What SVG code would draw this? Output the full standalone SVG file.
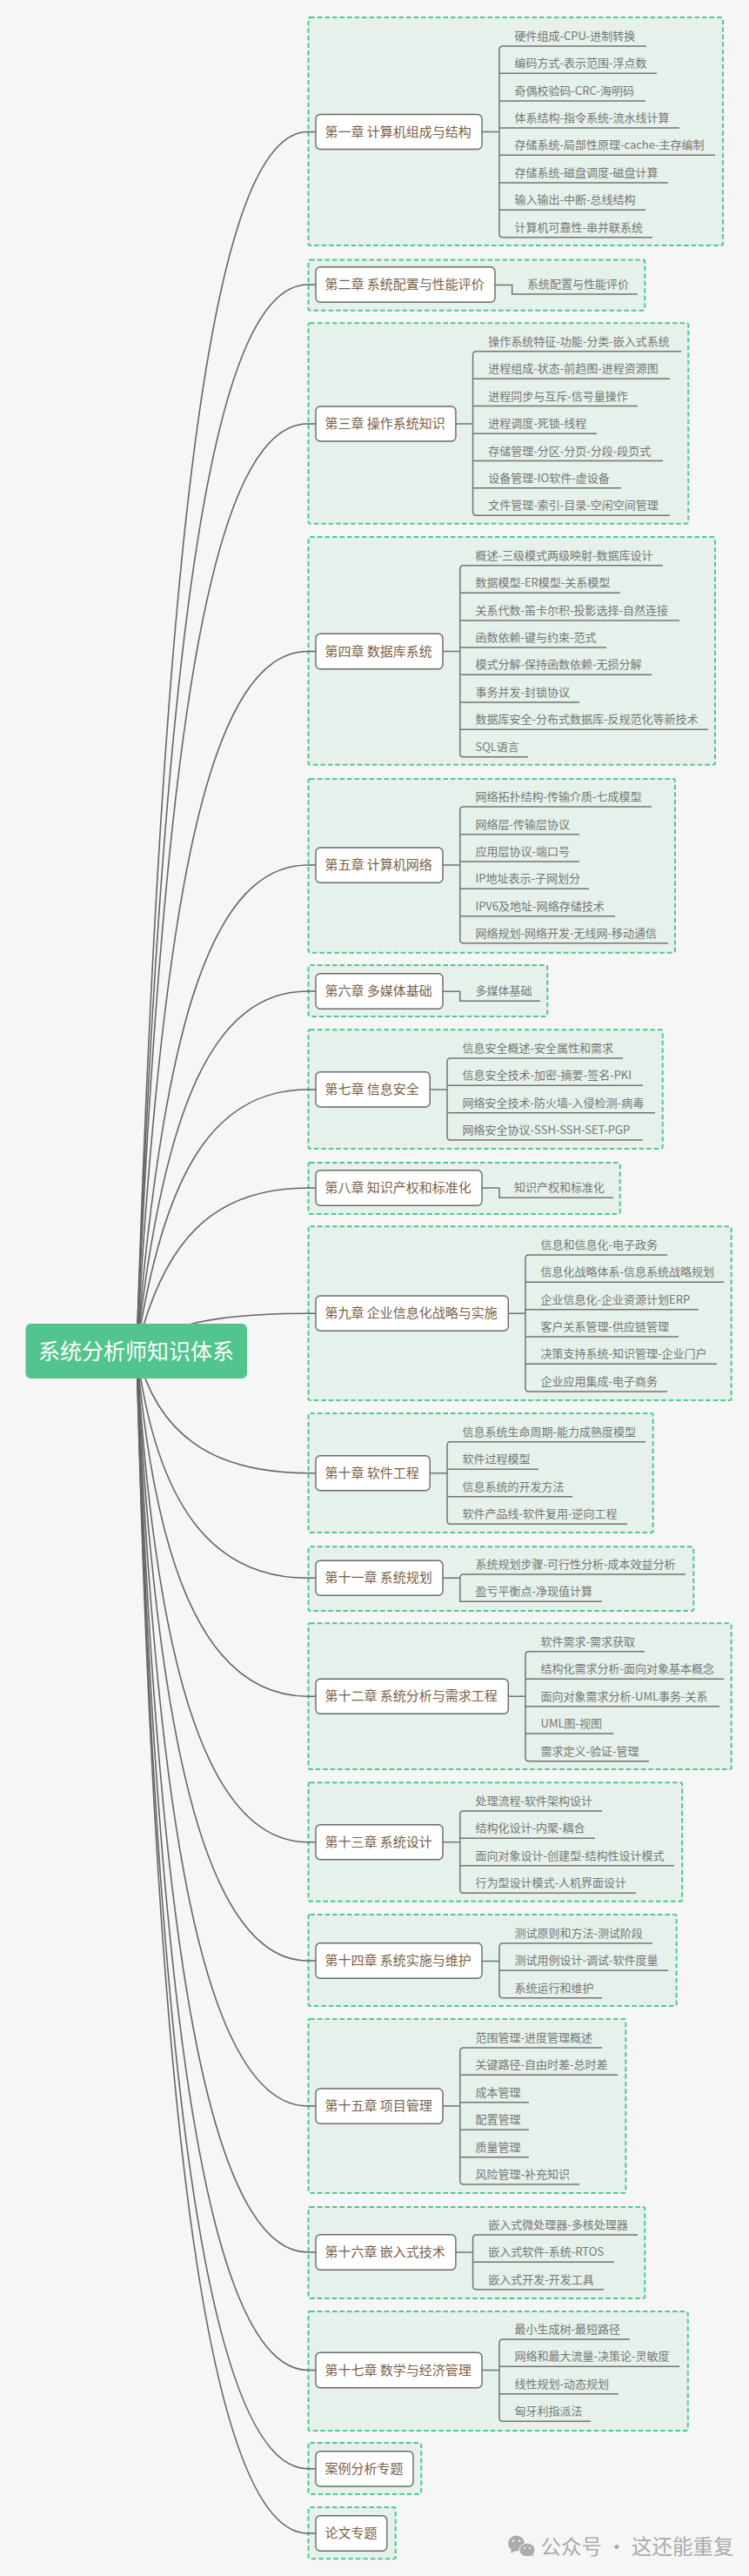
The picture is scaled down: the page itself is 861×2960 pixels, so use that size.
<svg xmlns="http://www.w3.org/2000/svg" width="861" height="2960" viewBox="0 0 861 2960">
<style>
text{font-family:"Noto Sans CJK SC","Microsoft YaHei","Liberation Sans",sans-serif}
.b{fill:#e5f1ea;stroke:#4fc98f;stroke-width:2;stroke-dasharray:5.5 3}
.c{fill:none;stroke:#666;stroke-width:1.6}
.u{fill:none;stroke:#747470;stroke-width:1.5}
.n{fill:#fff;stroke:#6a6a66;stroke-width:1.4}
.t{font-size:15px;fill:#7a5f48}
.l{font-size:13px;fill:#777}
.r{font-size:25px;fill:#fff}
.w{font-size:23.5px;fill:#ababab}
</style>
<rect width="861" height="2960" fill="#f6f6f6"/>
<g id="boundaries">
<rect class="b" x="354.5" y="20" width="476.5" height="262" rx="2"/>
<rect class="b" x="354.5" y="298.5" width="386.8" height="58.2" rx="2"/>
<rect class="b" x="354.5" y="371.3" width="436.8" height="230.5" rx="2"/>
<rect class="b" x="354.5" y="617" width="467.5" height="261.7" rx="2"/>
<rect class="b" x="354.5" y="895" width="421.5" height="199.7" rx="2"/>
<rect class="b" x="354.5" y="1109" width="274.8" height="59" rx="2"/>
<rect class="b" x="354.5" y="1183.3" width="407.2" height="136.7" rx="2"/>
<rect class="b" x="354.5" y="1336" width="358.3" height="59" rx="2"/>
<rect class="b" x="354.5" y="1409.3" width="486.2" height="199.7" rx="2"/>
<rect class="b" x="354.5" y="1624" width="396.2" height="137" rx="2"/>
<rect class="b" x="354.5" y="1777.3" width="442.8" height="73.7" rx="2"/>
<rect class="b" x="354.5" y="1865.3" width="486.2" height="167.7" rx="2"/>
<rect class="b" x="354.5" y="2048.3" width="429.7" height="136.4" rx="2"/>
<rect class="b" x="354.5" y="2200" width="423.1" height="105" rx="2"/>
<rect class="b" x="354.5" y="2320" width="364.9" height="200" rx="2"/>
<rect class="b" x="354.5" y="2536" width="386.8" height="105" rx="2"/>
<rect class="b" x="354.5" y="2656" width="436.3" height="137" rx="2"/>
<rect class="b" x="354.5" y="2807" width="129.8" height="59" rx="2"/>
<rect class="b" x="354.5" y="2881" width="100.2" height="59.3" rx="2"/>
</g>
<g id="connectors">
<path class="c" d="M157 1552C188 600 245 151.5 354 151.5L363 151.5"/>
<path class="c" d="M157 1552C188 719 245 327 354 327L363 327"/>
<path class="c" d="M157 1552C188 828 245 487 354 487L363 487"/>
<path class="c" d="M157 1552C188 1006 245 748.5 354 748.5L363 748.5"/>
<path class="c" d="M157 1552C188 1173 245 994 354 994L363 994"/>
<path class="c" d="M157 1552C188 1271 245 1139 354 1139L363 1139"/>
<path class="c" d="M157 1552C188 1348 245 1252 354 1252L363 1252"/>
<path class="c" d="M157 1552C188 1425 245 1365 354 1365L363 1365"/>
<path class="c" d="M157 1552C188 1523 245 1509.3 354 1509.3L363 1509.3"/>
<path class="c" d="M157 1552C180 1648 244 1692.7 354 1692.7L363 1692.7"/>
<path class="c" d="M157 1552C180 1730 244 1813.3 354 1813.3L363 1813.3"/>
<path class="c" d="M157 1552C180 1822 244 1949.3 354 1949.3L363 1949.3"/>
<path class="c" d="M157 1552C180 1936 244 2116.7 354 2116.7L363 2116.7"/>
<path class="c" d="M157 1552C180 2029 244 2253 354 2253L363 2253"/>
<path class="c" d="M157 1552C180 2142 244 2420 354 2420L363 2420"/>
<path class="c" d="M157 1552C180 2256 244 2588 354 2588L363 2588"/>
<path class="c" d="M157 1552C180 2349 244 2723.5 354 2723.5L363 2723.5"/>
<path class="c" d="M157 1552C180 2426 244 2836.8 354 2836.8L363 2836.8"/>
<path class="c" d="M157 1552C180 2476 244 2911 354 2911L363 2911"/>
<path class="u" d="M554 151.5H574M743 53H578Q574 53 574 57V268.8Q574 272.8 578 272.8H750M574 84.2H755M574 115.9H742M574 147.1H781M574 178.3H822M574 210H768M574 241.2H742"/>
<path class="u" d="M569 327.4H588.7V338H733"/>
<path class="u" d="M523.9 487H543.6M783 403.7H547.6Q543.6 403.7 543.6 407.7V588.3Q543.6 592.3 547.6 592.3H770M543.6 435.3H770M543.6 466.6H733M543.6 498.2H686M543.6 529.5H762M543.6 560.7H714"/>
<path class="u" d="M509 748.5H528.8M762 649.7H532.8Q528.8 649.7 528.8 653.7V865.7Q528.8 869.7 532.8 869.7H607M528.8 681.3H713M528.8 713H781M528.8 744H697M528.8 775.3H749M528.8 807H666M528.8 838.3H814"/>
<path class="u" d="M509 994H528.8M749 927H532.8Q528.8 927 528.8 931V1079.7Q528.8 1083.7 532.8 1083.7H768M528.8 958.7H666M528.8 990H666M528.8 1021.3H677M528.8 1052.7H707"/>
<path class="u" d="M509 1139.3H528.8V1150.3H621"/>
<path class="u" d="M494.2 1252H514M716 1216H518Q514 1216 514 1220V1306Q514 1310 518 1310H739M514 1247.3H739M514 1278.7H753"/>
<path class="u" d="M554 1365H574V1376.3H705"/>
<path class="u" d="M584.3 1509.3H604M767 1442H608Q604 1442 604 1446V1595Q604 1599 608 1599H767M604 1473.3H832M604 1504.7H803M604 1536H780M604 1567.3H824"/>
<path class="u" d="M494.2 1692.7H514M742 1656.7H518Q514 1656.7 514 1660.7V1747.3Q514 1751.3 518 1751.3H721M514 1688.3H619M514 1719.7H658"/>
<path class="u" d="M509 1813.3H528.8M788 1809H532.8Q528.8 1809 528.8 1813V1840.3H692"/>
<path class="u" d="M584.3 1949.3H604M741 1897.7H608Q604 1897.7 604 1901.7V2019.7Q604 2023.7 608 2023.7H746M604 1929.3H832M604 1960.7H827M604 1992H705"/>
<path class="u" d="M509 2116.7H528.8M692 2081H532.8Q528.8 2081 528.8 2085V2171.3Q528.8 2175.3 532.8 2175.3H731M528.8 2112.3H684M528.8 2143.7H775"/>
<path class="u" d="M554 2253.5H574M750 2233H578Q574 2233 574 2237V2291.7Q574 2295.7 578 2295.7H692M574 2264.3H768"/>
<path class="u" d="M509 2420H528.8M692 2353H532.8Q528.8 2353 528.8 2357V2506Q528.8 2510 532.8 2510H666M528.8 2384.3H710M528.8 2415.7H608M528.8 2447.3H608M528.8 2478.7H608"/>
<path class="u" d="M523.9 2588H543.6M733 2568H547.6Q543.6 2568 543.6 2572V2626.7Q543.6 2630.7 547.6 2630.7H694M543.6 2599.3H706"/>
<path class="u" d="M554 2723.5H574M724 2688H578Q574 2688 574 2692V2778.3Q574 2782.3 578 2782.3H679M574 2719.3H781M574 2750.7H711"/>
</g>
<g id="root"><rect x="29.5" y="1521" width="254.5" height="63" rx="6" fill="#52c48e"/><text class="r" x="44" y="1561.5">系统分析师知识体系</text></g>
<g id="ch1"><rect class="n" x="363" y="131.5" width="191" height="40" rx="5"/><text class="t" x="373.5" y="156.5">第一章 计算机组成与结构</text></g>
<g id="ch1-1"><text class="l" x="591.4" y="46">硬件组成-CPU-进制转换</text></g>
<g id="ch1-2"><text class="l" x="591.4" y="77.2">编码方式-表示范围-浮点数</text></g>
<g id="ch1-3"><text class="l" x="591.4" y="108.9">奇偶校验码-CRC-海明码</text></g>
<g id="ch1-4"><text class="l" x="591.4" y="140.1">体系结构-指令系统-流水线计算</text></g>
<g id="ch1-5"><text class="l" x="591.4" y="171.3">存储系统-局部性原理-cache-主存编制</text></g>
<g id="ch1-6"><text class="l" x="591.4" y="203">存储系统-磁盘调度-磁盘计算</text></g>
<g id="ch1-7"><text class="l" x="591.4" y="234.2">输入输出-中断-总线结构</text></g>
<g id="ch1-8"><text class="l" x="591.4" y="265.8">计算机可靠性-串并联系统</text></g>
<g id="ch2"><rect class="n" x="363" y="306.8" width="206" height="40.4" rx="5"/><text class="t" x="373.5" y="332">第二章 系统配置与性能评价</text></g>
<g id="ch2-1"><text class="l" x="606" y="331">系统配置与性能评价</text></g>
<g id="ch3"><rect class="n" x="363" y="467" width="160.9" height="40" rx="5"/><text class="t" x="373.5" y="492">第三章 操作系统知识</text></g>
<g id="ch3-1"><text class="l" x="561.2" y="396.7">操作系统特征-功能-分类-嵌入式系统</text></g>
<g id="ch3-2"><text class="l" x="561.2" y="428.3">进程组成-状态-前趋图-进程资源图</text></g>
<g id="ch3-3"><text class="l" x="561.2" y="459.6">进程同步与互斥-信号量操作</text></g>
<g id="ch3-4"><text class="l" x="561.2" y="491.2">进程调度-死锁-线程</text></g>
<g id="ch3-5"><text class="l" x="561.2" y="522.5">存储管理-分区-分页-分段-段页式</text></g>
<g id="ch3-6"><text class="l" x="561.2" y="553.7">设备管理-IO软件-虚设备</text></g>
<g id="ch3-7"><text class="l" x="561.2" y="585.3">文件管理-索引-目录-空闲空间管理</text></g>
<g id="ch4"><rect class="n" x="363" y="728.3" width="146" height="40.4" rx="5"/><text class="t" x="373.5" y="753.5">第四章 数据库系统</text></g>
<g id="ch4-1"><text class="l" x="546.4" y="642.7">概述-三级模式两级映射-数据库设计</text></g>
<g id="ch4-2"><text class="l" x="546.4" y="674.3">数据模型-ER模型-关系模型</text></g>
<g id="ch4-3"><text class="l" x="546.4" y="706">关系代数-笛卡尔积-投影选择-自然连接</text></g>
<g id="ch4-4"><text class="l" x="546.4" y="737">函数依赖-键与约束-范式</text></g>
<g id="ch4-5"><text class="l" x="546.4" y="768.3">模式分解-保持函数依赖-无损分解</text></g>
<g id="ch4-6"><text class="l" x="546.4" y="800">事务并发-封锁协议</text></g>
<g id="ch4-7"><text class="l" x="546.4" y="831.3">数据库安全-分布式数据库-反规范化等新技术</text></g>
<g id="ch4-8"><text class="l" x="546.4" y="862.7">SQL语言</text></g>
<g id="ch5"><rect class="n" x="363" y="974" width="146" height="40.3" rx="5"/><text class="t" x="373.5" y="999">第五章 计算机网络</text></g>
<g id="ch5-1"><text class="l" x="546.4" y="920">网络拓扑结构-传输介质-七成模型</text></g>
<g id="ch5-2"><text class="l" x="546.4" y="951.7">网络层-传输层协议</text></g>
<g id="ch5-3"><text class="l" x="546.4" y="983">应用层协议-端口号</text></g>
<g id="ch5-4"><text class="l" x="546.4" y="1014.3">IP地址表示-子网划分</text></g>
<g id="ch5-5"><text class="l" x="546.4" y="1045.7">IPV6及地址-网络存储技术</text></g>
<g id="ch5-6"><text class="l" x="546.4" y="1076.7">网络规划-网络开发-无线网-移动通信</text></g>
<g id="ch6"><rect class="n" x="363" y="1118.7" width="146" height="40.6" rx="5"/><text class="t" x="373.5" y="1144">第六章 多媒体基础</text></g>
<g id="ch6-1"><text class="l" x="546.4" y="1143.3">多媒体基础</text></g>
<g id="ch7"><rect class="n" x="363" y="1231.7" width="131.2" height="40.3" rx="5"/><text class="t" x="373.5" y="1257">第七章 信息安全</text></g>
<g id="ch7-1"><text class="l" x="531.6" y="1209">信息安全概述-安全属性和需求</text></g>
<g id="ch7-2"><text class="l" x="531.6" y="1240.3">信息安全技术-加密-摘要-签名-PKI</text></g>
<g id="ch7-3"><text class="l" x="531.6" y="1271.7">网络安全技术-防火墙-入侵检测-病毒</text></g>
<g id="ch7-4"><text class="l" x="531.6" y="1303">网络安全协议-SSH-SSH-SET-PGP</text></g>
<g id="ch8"><rect class="n" x="363" y="1344.7" width="191" height="40.6" rx="5"/><text class="t" x="373.5" y="1370">第八章 知识产权和标准化</text></g>
<g id="ch8-1"><text class="l" x="591" y="1369.3">知识产权和标准化</text></g>
<g id="ch9"><rect class="n" x="363" y="1489" width="221.3" height="40.3" rx="5"/><text class="t" x="373.5" y="1514.3">第九章 企业信息化战略与实施</text></g>
<g id="ch9-1"><text class="l" x="621.6" y="1435">信息和信息化-电子政务</text></g>
<g id="ch9-2"><text class="l" x="621.6" y="1466.3">信息化战略体系-信息系统战略规划</text></g>
<g id="ch9-3"><text class="l" x="621.6" y="1497.7">企业信息化-企业资源计划ERP</text></g>
<g id="ch9-4"><text class="l" x="621.6" y="1529">客户关系管理-供应链管理</text></g>
<g id="ch9-5"><text class="l" x="621.6" y="1560.3">决策支持系统-知识管理-企业门户</text></g>
<g id="ch9-6"><text class="l" x="621.6" y="1592">企业应用集成-电子商务</text></g>
<g id="ch10"><rect class="n" x="363" y="1672.7" width="131.2" height="40" rx="5"/><text class="t" x="373.5" y="1697.7">第十章 软件工程</text></g>
<g id="ch10-1"><text class="l" x="531.6" y="1649.7">信息系统生命周期-能力成熟度模型</text></g>
<g id="ch10-2"><text class="l" x="531.6" y="1681.3">软件过程模型</text></g>
<g id="ch10-3"><text class="l" x="531.6" y="1712.7">信息系统的开发方法</text></g>
<g id="ch10-4"><text class="l" x="531.6" y="1744.3">软件产品线-软件复用-逆向工程</text></g>
<g id="ch11"><rect class="n" x="363" y="1793.3" width="146" height="40" rx="5"/><text class="t" x="373.5" y="1818.3">第十一章 系统规划</text></g>
<g id="ch11-1"><text class="l" x="546.4" y="1802">系统规划步骤-可行性分析-成本效益分析</text></g>
<g id="ch11-2"><text class="l" x="546.4" y="1833.3">盈亏平衡点-净现值计算</text></g>
<g id="ch12"><rect class="n" x="363" y="1929.3" width="221.3" height="40" rx="5"/><text class="t" x="373.5" y="1954.3">第十二章 系统分析与需求工程</text></g>
<g id="ch12-1"><text class="l" x="621.6" y="1890.7">软件需求-需求获取</text></g>
<g id="ch12-2"><text class="l" x="621.6" y="1922.3">结构化需求分析-面向对象基本概念</text></g>
<g id="ch12-3"><text class="l" x="621.6" y="1953.7">面向对象需求分析-UML事务-关系</text></g>
<g id="ch12-4"><text class="l" x="621.6" y="1985">UML图-视图</text></g>
<g id="ch12-5"><text class="l" x="621.6" y="2016.7">需求定义-验证-管理</text></g>
<g id="ch13"><rect class="n" x="363" y="2096.7" width="146" height="40" rx="5"/><text class="t" x="373.5" y="2121.7">第十三章 系统设计</text></g>
<g id="ch13-1"><text class="l" x="546.4" y="2074">处理流程-软件架构设计</text></g>
<g id="ch13-2"><text class="l" x="546.4" y="2105.3">结构化设计-内聚-耦合</text></g>
<g id="ch13-3"><text class="l" x="546.4" y="2136.7">面向对象设计-创建型-结构性设计模式</text></g>
<g id="ch13-4"><text class="l" x="546.4" y="2168.3">行为型设计模式-人机界面设计</text></g>
<g id="ch14"><rect class="n" x="363" y="2232.7" width="191" height="40.6" rx="5"/><text class="t" x="373.5" y="2258">第十四章 系统实施与维护</text></g>
<g id="ch14-1"><text class="l" x="591.4" y="2226">测试原则和方法-测试阶段</text></g>
<g id="ch14-2"><text class="l" x="591.4" y="2257.3">测试用例设计-调试-软件度量</text></g>
<g id="ch14-3"><text class="l" x="591.4" y="2288.7">系统运行和维护</text></g>
<g id="ch15"><rect class="n" x="363" y="2400" width="146" height="40.3" rx="5"/><text class="t" x="373.5" y="2425">第十五章 项目管理</text></g>
<g id="ch15-1"><text class="l" x="546.4" y="2346">范围管理-进度管理概述</text></g>
<g id="ch15-2"><text class="l" x="546.4" y="2377.3">关键路径-自由时差-总时差</text></g>
<g id="ch15-3"><text class="l" x="546.4" y="2408.7">成本管理</text></g>
<g id="ch15-4"><text class="l" x="546.4" y="2440.3">配置管理</text></g>
<g id="ch15-5"><text class="l" x="546.4" y="2471.7">质量管理</text></g>
<g id="ch15-6"><text class="l" x="546.4" y="2503">风险管理-补充知识</text></g>
<g id="ch16"><rect class="n" x="363" y="2567.7" width="160.9" height="40.6" rx="5"/><text class="t" x="373.5" y="2593">第十六章 嵌入式技术</text></g>
<g id="ch16-1"><text class="l" x="561.2" y="2561">嵌入式微处理器-多核处理器</text></g>
<g id="ch16-2"><text class="l" x="561.2" y="2592.3">嵌入式软件-系统-RTOS</text></g>
<g id="ch16-3"><text class="l" x="561.2" y="2623.7">嵌入式开发-开发工具</text></g>
<g id="ch17"><rect class="n" x="363" y="2703.3" width="191" height="40.4" rx="5"/><text class="t" x="373.5" y="2728.5">第十七章 数学与经济管理</text></g>
<g id="ch17-1"><text class="l" x="591.4" y="2681">最小生成树-最短路径</text></g>
<g id="ch17-2"><text class="l" x="591.4" y="2712.3">网络和最大流量-决策论-灵敏度</text></g>
<g id="ch17-3"><text class="l" x="591.4" y="2743.7">线性规划-动态规划</text></g>
<g id="ch17-4"><text class="l" x="591.4" y="2775.3">匈牙利指派法</text></g>
<g id="case"><rect class="n" x="363" y="2816.7" width="112" height="40.3" rx="5"/><text class="t" x="373.5" y="2842">案例分析专题</text></g>
<g id="paper"><rect class="n" x="363" y="2890.7" width="81.8" height="40.6" rx="5"/><text class="t" x="373.5" y="2916">论文专题</text></g>
<g id="watermark">
<ellipse cx="593.5" cy="2922.5" rx="9.5" ry="9" fill="#ababab"/>
<path d="M588 2929l-1 5 6-3z" fill="#ababab"/>
<ellipse cx="606" cy="2930" rx="9" ry="7.8" fill="#ababab" stroke="#f6f6f6"/>
<path d="M610 2935l3 3-.5-5z" fill="#ababab"/>
<circle cx="590" cy="2919.5" r="1.3" fill="#f6f6f6"/><circle cx="597" cy="2919.5" r="1.3" fill="#f6f6f6"/>
<circle cx="603" cy="2928" r="1.1" fill="#f6f6f6"/><circle cx="609" cy="2928" r="1.1" fill="#f6f6f6"/>
<text class="w" x="621.6" y="2934.5">公众号 · 这还能重复</text>
</g>
</svg>
